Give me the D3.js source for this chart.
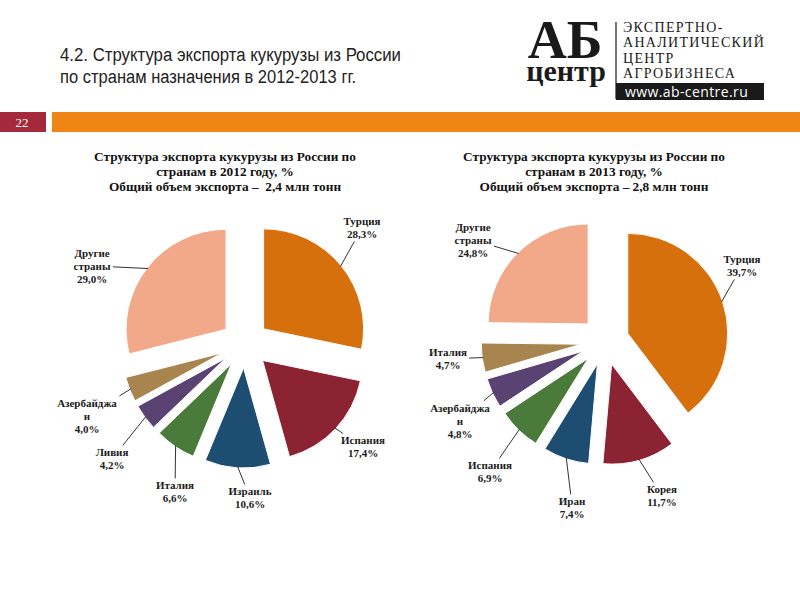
<!DOCTYPE html>
<html>
<head>
<meta charset="utf-8">
<script src="https://cdn.jsdelivr.net/npm/d3@7"></script>
<style>
  body { margin: 0; background: #fff; }
  svg { display: block; }
</style>
</head>
<body>
<div id="chart"></div>
<script>
// data
var countries2012 = ["Турция", "Испания", "Израиль", "Италия", "Ливия", "Азербайджа\nн", "Другие\nстраны"];
var shares2012 = [28.3, 17.4, 10.6, 6.6, 4.2, 4.0, 29.0];
var countries2013 = ["Турция", "Корея", "Иран", "Испания", "Азербайджа\nн", "Италия", "Другие\nстраны"];
var shares2013 = [39.7, 11.7, 7.4, 6.9, 4.8, 4.7, 24.8];
var titles2012 = ["Структура экспорта кукурузы из России по", "странам в 2012 году, %", "Общий объем экспорта –  2,4 млн тонн"];
var titles2013 = ["Структура экспорта кукурузы из России по", "странам в 2013 году, %", "Общий объем экспорта – 2,8 млн тонн"];

var colors = ["#d6700d", "#8c2332", "#1d4e72", "#4b7b3b", "#5a4273", "#a8854f", "#f1a98a"];

// label block centres, relative to pie centre (layout only)
var labelPos2012 = [[117, -116], [118, 103], [5, 154], [-70, 148], [-133, 115], [-158, 72], [-153, -78]];
var labelPos2013 = [[137, -75], [57, 155], [-33, 167], [-115, 131], [-145, 80], [-157, 18], [-132, -101]];

var W = 800, H = 600;
var svg = d3.select("#chart").append("svg")
  .attr("width", W)
  .attr("height", H);

// ---- page header ----
var head = svg.append("g");
[["4.2. Структура экспорта кукурузы из России", 341], ["по странам назначения в 2012-2013 гг.", 296]].forEach(function (t, i) {
  head.append("text")
    .attr("x", 60)
    .attr("y", 61 + i * 22)
    .attr("textLength", t[1])
    .attr("lengthAdjust", "spacingAndGlyphs")
    .style("font-family", "'Liberation Sans Narrow', 'Arial Narrow', 'Liberation Sans', sans-serif")
    .style("font-size", "18px")
    .style("fill", "#222")
    .text(t[0]);
});

// logo: "АБ" over "центр" as one text block
var logo = svg.append("g");
var mark = logo.append("text")
  .attr("text-anchor", "middle")
  .style("font-family", "'Liberation Serif', 'DejaVu Serif', serif")
  .style("font-weight", "bold")
  .style("fill", "#1a1a1a");
mark.append("tspan")
  .attr("x", 565).attr("y", 58)
  .style("font-size", "54px")
  .text("АБ");
mark.append("tspan")
  .attr("x", 566).attr("y", 81)
  .style("font-size", "30px")
  .text("центр");
logo.append("line")
  .attr("x1", 616).attr("x2", 616)
  .attr("y1", 22).attr("y2", 99)
  .style("stroke", "#1a1a1a")
  .style("stroke-width", 1.2);
["ЭКСПЕРТНО-", "АНАЛИТИЧЕСКИЙ", "ЦЕНТР", "АГРОБИЗНЕСА"].forEach(function (t, i) {
  logo.append("text")
    .attr("x", 623)
    .attr("y", 32 + i * 15.3)
    .style("font-family", "'Liberation Serif', 'DejaVu Serif', serif")
    .style("font-size", "14px")
    .style("letter-spacing", "1.3px")
    .style("fill", "#1a1a1a")
    .text(t);
});
logo.append("rect")
  .attr("x", 616).attr("y", 83)
  .attr("width", 148).attr("height", 17)
  .style("fill", "#1a1a1a");
logo.append("text")
  .attr("x", 625).attr("y", 97)
  .style("font-family", "'Open Sans', 'DejaVu Sans', sans-serif")
  .style("font-size", "14px")
  .style("letter-spacing", "0.4px")
  .style("fill", "#ffffff")
  .text("www.ab-centre.ru");

// page number + orange band
svg.append("rect")
  .attr("x", 0).attr("y", 112)
  .attr("width", 46).attr("height", 20)
  .style("fill", "#a3293b");
svg.append("text")
  .attr("x", 22).attr("y", 127)
  .attr("text-anchor", "middle")
  .style("font-family", "'Liberation Serif', serif")
  .style("font-size", "13px")
  .style("fill", "#fff")
  .text("22");
svg.append("rect")
  .attr("x", 52).attr("y", 112)
  .attr("width", W - 52).attr("height", 20)
  .style("fill", "#ef8515");

// ---- pies ----
function drawPie(cx, cy, titleCx, titleLines, names, values, labelPos) {
  var radius = 100, explode = 24;
  var g = svg.append("g").attr("transform", "translate(" + cx + "," + cy + ")");

  var titleG = svg.append("g");
  titleLines.forEach(function (t, i) {
    titleG.append("text")
      .attr("x", titleCx)
      .attr("y", 161 + i * 15)
      .attr("text-anchor", "middle")
      .style("white-space", "pre")
      .style("font-family", "'Liberation Serif', 'Times New Roman', serif")
      .style("font-weight", "bold")
      .style("font-size", "13.3px")
      .style("fill", "#111")
      .text(t);
  });

  var pie = d3.pie().sort(null).value(function (d) { return d; });
  var arc = d3.arc().innerRadius(0).outerRadius(radius);
  var arcs = pie(values);

  function mid(d) { return (d.startAngle + d.endAngle) / 2; }

  g.selectAll(".slice")
    .data(arcs)
    .enter().append("path")
    .attr("class", "slice")
    .attr("d", arc)
    .attr("transform", function (d) {
      var a = mid(d);
      return "translate(" + (Math.sin(a) * explode) + "," + (-Math.cos(a) * explode) + ")";
    })
    .style("fill", function (d, i) { return colors[i]; })
    .style("stroke", "#fff")
    .style("stroke-width", 1);

  // labels
  var labels = g.selectAll(".lbl")
    .data(arcs)
    .enter().append("text")
    .attr("class", "lbl")
    .attr("text-anchor", "middle")
    .style("font-family", "'Liberation Serif', 'Times New Roman', serif")
    .style("font-weight", "bold")
    .style("font-size", "11px")
    .style("fill", "#1a1a1a");

  labels.each(function (d, i) {
    var lines = names[i].split("\n").concat([d3.format(".1f")(values[i]).replace(".", ",") + "%"]);
    var lh = 13;
    var x = labelPos[i][0], y0 = labelPos[i][1] - (lines.length - 1) * lh / 2;
    var t = d3.select(this);
    lines.forEach(function (l, k) {
      t.append("tspan")
        .attr("x", x)
        .attr("y", y0 + k * lh)
        .attr("dy", "0.35em")
        .text(l);
    });
  });

  // leader lines: from exploded arc edge to the label box
  labels.each(function (d, i) {
    var a = mid(d), rr = radius + explode - 1;
    var px = Math.sin(a) * rr, py = -Math.cos(a) * rr;
    var b = this.getBBox();
    var bx0 = b.x - 2, bx1 = b.x + b.width + 2, by0 = b.y - 1, by1 = b.y + b.height + 1;
    var lx = b.x + b.width / 2, ly = b.y + b.height / 2;
    // clip the segment P -> label centre at the label box
    var dx = lx - px, dy = ly - py, tBest = 1;
    [[bx0, "x"], [bx1, "x"], [by0, "y"], [by1, "y"]].forEach(function (e) {
      var t = e[1] === "x" ? (e[0] - px) / dx : (e[0] - py) / dy;
      if (t > 0 && t < tBest) {
        var ix = px + dx * t, iy = py + dy * t;
        if (ix >= bx0 - 0.01 && ix <= bx1 + 0.01 && iy >= by0 - 0.01 && iy <= by1 + 0.01) tBest = t;
      }
    });
    g.append("line")
      .attr("x1", px).attr("y1", py)
      .attr("x2", px + dx * tBest).attr("y2", py + dy * tBest)
      .style("stroke", "#333")
      .style("stroke-width", 1);
  });
}

drawPie(245, 344, 225, titles2012, countries2012, shares2012, labelPos2012);
drawPie(605, 341, 594, titles2013, countries2013, shares2013, labelPos2013);
</script>
</body>
</html>
